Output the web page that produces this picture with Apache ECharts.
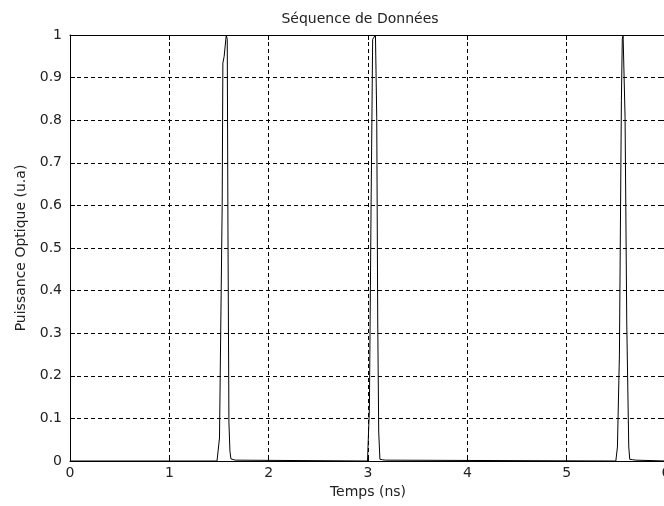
<!DOCTYPE html>
<html>
<head>
<meta charset="utf-8">
<script src="https://cdn.jsdelivr.net/npm/echarts@6/dist/echarts.min.js"></script>
<style>
  html, body { margin: 0; padding: 0; background: #fff; }
  #chart { width: 664px; height: 506px; }
</style>
</head>
<body>
<div id="chart"></div>
<script>
// Optical pulses of the data sequence (time in ns, normalised power)
const pulse1Time  = [1.480, 1.495, 1.505, 1.519, 1.532, 1.539, 1.552, 1.573, 1.583, 1.590, 1.600, 1.610, 1.620, 1.633, 1.663, 1.675];
const pulse1Power = [0.000, 0.003, 0.054, 0.338, 0.600, 0.934, 0.950, 1.000, 0.990, 0.549, 0.090, 0.023, 0.005, 0.003, 0.002, 0.000];

const pulse2Time  = [2.995, 3.010, 3.014, 3.031, 3.047, 3.075, 3.088, 3.098, 3.108, 3.120, 3.145, 3.175, 3.185];
const pulse2Power = [0.000, 0.003, 0.124, 0.600, 0.990, 1.000, 0.807, 0.324, 0.068, 0.004, 0.003, 0.002, 0.000];

const pulse3Time  = [5.495, 5.505, 5.511, 5.531, 5.551, 5.560, 5.568, 5.588, 5.605, 5.625, 5.635, 5.665, 5.696, 5.705];
const pulse3Power = [0.000, 0.003, 0.033, 0.249, 0.847, 0.990, 1.000, 0.807, 0.324, 0.033, 0.004, 0.003, 0.002, 0.000];

const xTicks = [0, 1, 2, 3, 4, 5, 6];
const yTicks = [0, 0.1, 0.2, 0.3, 0.4, 0.5, 0.6, 0.7, 0.8, 0.9, 1];

// Build one continuous trace starting and ending on the zero baseline
const trace = [[xTicks[0], 0]];
[[pulse1Time, pulse1Power], [pulse2Time, pulse2Power], [pulse3Time, pulse3Power]].forEach(([t, p]) => {
  t.forEach((v, i) => trace.push([v, p[i]]));
});
trace.push([xTicks[xTicks.length - 1], 0]);

const font = 'DejaVu Sans, Verdana, sans-serif';
const textColor = '#222';
const gridLine = { show: true, lineStyle: { color: '#000', width: 1, type: [4, 3] } };
const axisLine = { show: true, onZero: false, lineStyle: { color: '#000', width: 1 } };
const tick = { show: true, inside: true, length: 5, lineStyle: { color: '#000' } };

const chart = echarts.init(document.getElementById('chart'), null, { renderer: 'canvas' });
chart.setOption({
  animation: false,
  backgroundColor: '#fff',
  title: {
    text: 'Séquence de Données',
    left: 355,
    textAlign: 'center',
    top: 7,
    textStyle: { fontFamily: font, fontSize: 14, fontWeight: 'normal', color: textColor }
  },
  grid: { left: 70, top: 35, right: -2, bottom: 45, containLabel: false, outerBoundsMode: 'none' },
  xAxis: [
    {
      type: 'value', min: xTicks[0], max: xTicks[xTicks.length - 1], interval: 1,
      name: 'Temps (ns)', nameLocation: 'middle', nameGap: 24,
      nameTextStyle: { fontFamily: font, fontSize: 14, color: textColor },
      axisLine, axisTick: tick, splitLine: gridLine,
      axisLabel: { margin: 5, fontFamily: font, fontSize: 14, color: textColor, showMaxLabel: true, showMinLabel: true }
    },
    {
      type: 'value', position: 'top', min: xTicks[0], max: xTicks[xTicks.length - 1], interval: 1,
      axisLine, axisTick: tick, splitLine: { show: false }, axisLabel: { show: false }
    }
  ],
  yAxis: [
    {
      type: 'value', min: yTicks[0], max: yTicks[yTicks.length - 1], interval: 0.1,
      name: 'Puissance Optique (u.a)', nameLocation: 'middle', nameGap: 40,
      nameTextStyle: { fontFamily: font, fontSize: 14, color: textColor },
      axisLine, axisTick: tick, splitLine: gridLine,
      axisLabel: {
        margin: 8, fontFamily: font, fontSize: 14, color: textColor,
        formatter: v => String(Math.round(v * 10) / 10)
      }
    },
    {
      type: 'value', position: 'right', min: yTicks[0], max: yTicks[yTicks.length - 1], interval: 0.1,
      axisLine, axisTick: tick, splitLine: { show: false }, axisLabel: { show: false }
    }
  ],
  series: [{
    type: 'line',
    data: trace,
    showSymbol: false,
    symbol: 'none',
    lineStyle: { color: '#000', width: 1 },
    clip: true,
    z: 3
  }]
});
</script>
</body>
</html>
